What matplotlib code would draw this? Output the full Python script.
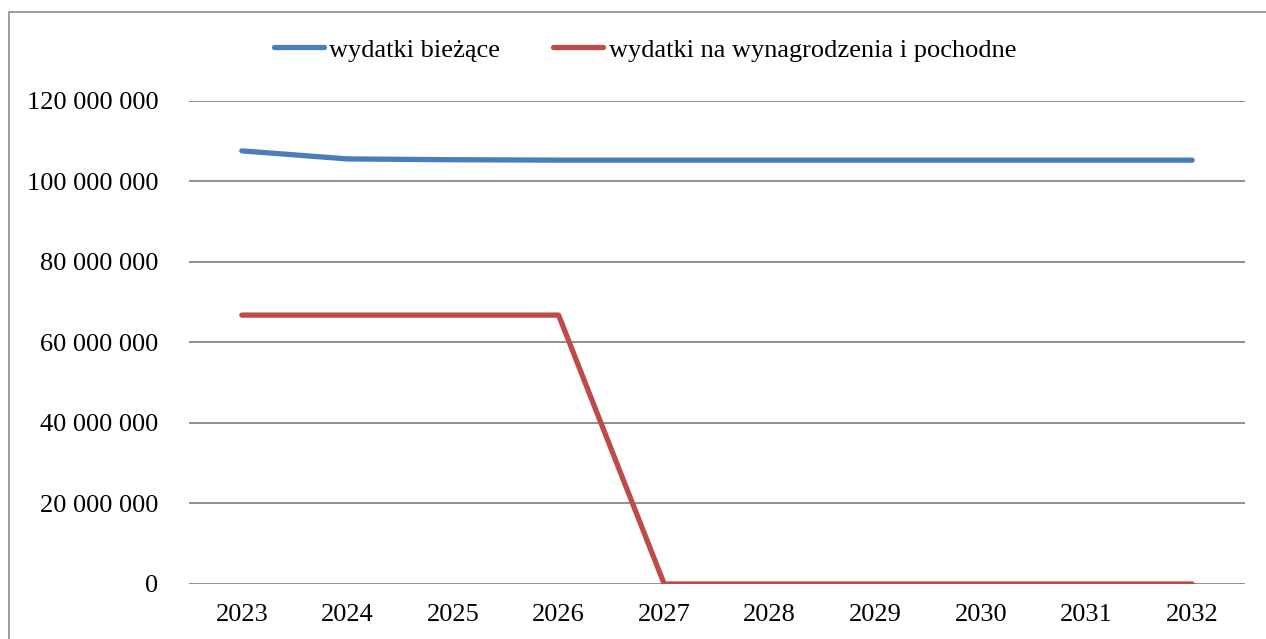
import matplotlib
matplotlib.use('Agg')
import matplotlib.pyplot as plt
from matplotlib.patches import Rectangle
from matplotlib.ticker import FuncFormatter

years = ['2023', '2024', '2025', '2026', '2027', '2028', '2029', '2030', '2031', '2032']
wydatki_biezace = [107600000, 105600000, 105400000, 105300000, 105300000,
                   105300000, 105300000, 105300000, 105300000, 105300000]
wydatki_wynagrodzenia = [66800000, 66800000, 66800000, 66800000, 0, 0, 0, 0, 0, 0]

plt.rcParams['font.family'] = ['Liberation Serif', 'DejaVu Serif']

blue = '#4a7ebb'
red = '#be4b48'
grid_color = '#878787'

fig = plt.figure(figsize=(12.66, 6.39), dpi=100)
ax = fig.add_axes([0.1493, 0.0861, 0.8341, 0.7559])

x = range(len(years))
ax.plot(x, wydatki_biezace, color=blue, linewidth=3.8, solid_capstyle='round',
        label='wydatki bieżące', zorder=3)
ax.plot(x, wydatki_wynagrodzenia, color=red, linewidth=3.8, solid_capstyle='round',
        label='wydatki na wynagrodzenia i pochodne', zorder=3)

ax.set_xlim(-0.5, len(years) - 0.5)
ax.set_ylim(0, 120000000)
ax.set_yticks(range(0, 120000001, 20000000))
ax.yaxis.set_major_formatter(FuncFormatter(lambda v, p: f'{int(v):,}'.replace(',', ' ')))
ax.set_xticks(list(x))
ax.set_xticklabels(years)

ax.grid(True, axis='y', color=grid_color, linewidth=1.3)
ax.set_axisbelow(True)
for s in ax.spines.values():
    s.set_visible(False)
ax.tick_params(axis='both', length=0, labelsize=19)
ax.tick_params(axis='y', pad=22)
ax.tick_params(axis='x', pad=14.5)

ax.legend(loc='center', bbox_to_anchor=(0.5 * (266 + 1024) / 1266, 1 - 50 / 639),
          bbox_transform=fig.transFigure, ncol=2, frameon=False, fontsize=19,
          handlelength=1.9, handletextpad=0.2, columnspacing=2.0)

# outer chart border
fig.patches.append(Rectangle((9 / 1266, -0.1), 1.2, 1 - 12 / 639 + 0.1,
                             transform=fig.transFigure, fill=False,
                             edgecolor='#8c8c8c', linewidth=1.2))

fig.savefig('out.png', dpi=100, facecolor='white')
